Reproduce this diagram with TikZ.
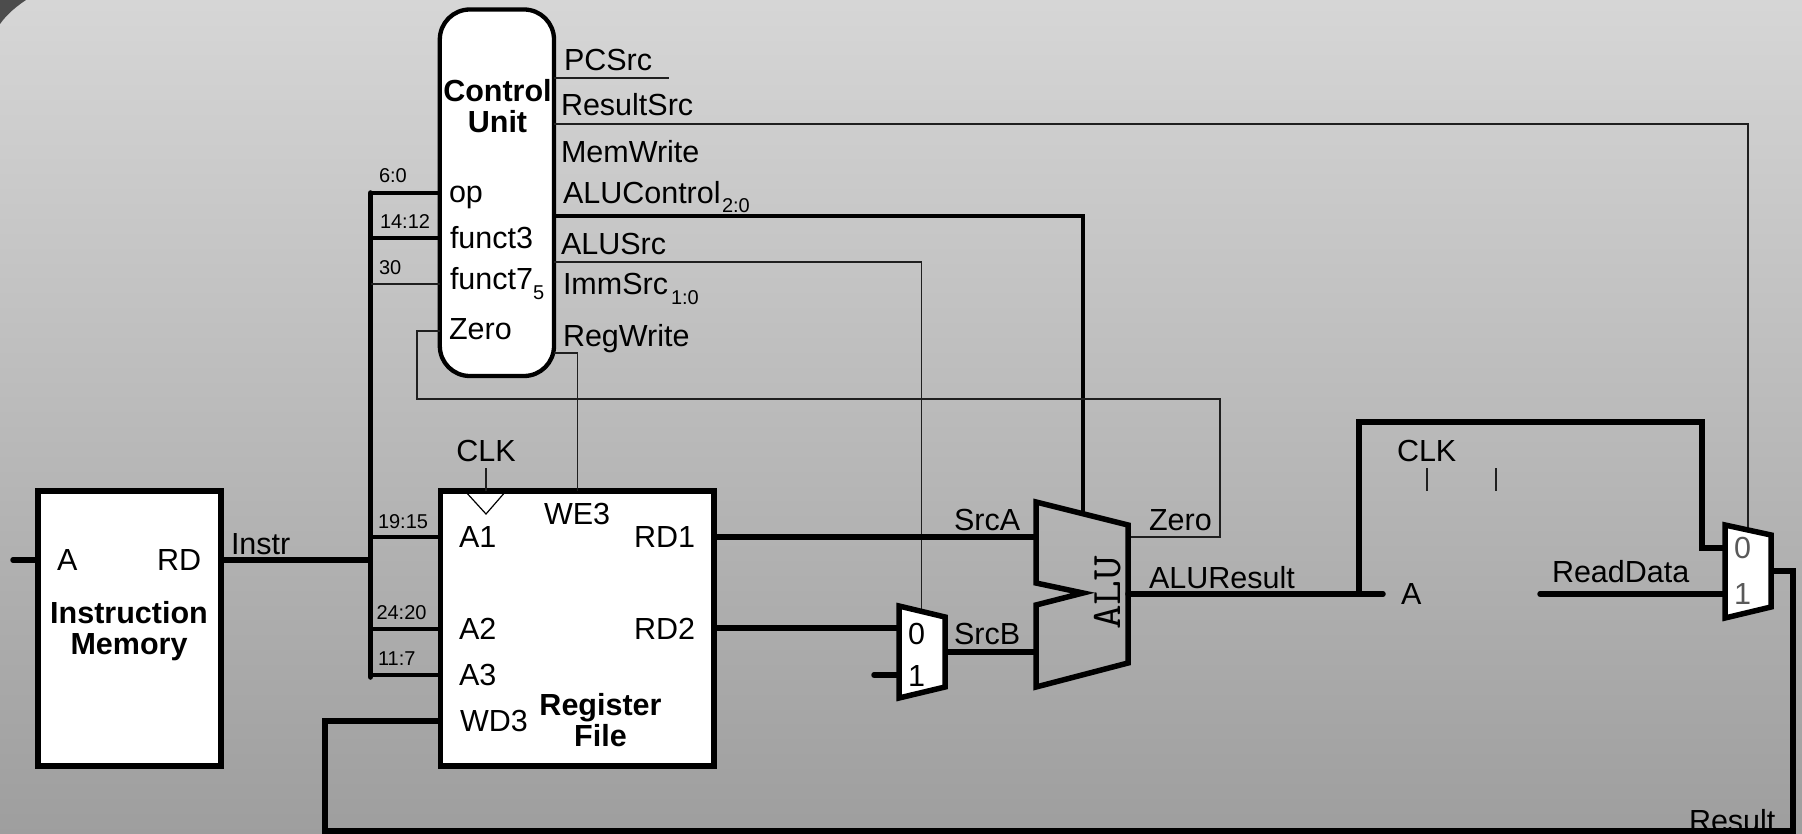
\documentclass[tikz,border=0pt]{standalone}
\usepackage{fontspec}
\setmainfont{Liberation Sans}
\newfontfamily\alufont{Latin Modern Mono}
\tikzset{
  lbl/.style={anchor=base west,inner sep=0pt,outer sep=0pt,yshift=-1pt,font=\fontsize{30.5}{32}\selectfont},
  lblc/.style={lbl,anchor=base},
  tiny/.style={lbl,font=\fontsize{20}{22}\selectfont},
  title/.style={lblc,font=\fontsize{30.5}{32}\selectfont\bfseries},
  blockbox/.style={draw=black,fill=white,line width=5.5pt,inner sep=0pt,outer sep=0pt,anchor=north west,line join=miter},
  thinw/.style={draw=black!88,line width=1.2pt},
  busw/.style={draw=black,line width=5.5pt,line cap=round,line join=miter},
  medw/.style={draw=black,line width=4pt,line join=miter},
  shapeline/.style={draw=black,line width=5.5pt,line join=miter},
}
\begin{document}
\begin{tikzpicture}[x=1pt,y=-1pt]
\useasboundingbox (0,0) rectangle (1802,834);
\shade[top color=black!16,bottom color=black!38,shading angle=0] (0,0) rectangle (1802,834);
\fill[black!70] (0,0) -- (26,0) .. controls (17,6) and (7,14) .. (0,24) -- cycle;

% coordinates
\coordinate (busT) at (370.5,193);
\coordinate (busB) at (370.5,677);
\coordinate (alusrcC) at (921.5,262);
\coordinate (alutop) at (1082.5,512);
\coordinate (aluctlC) at (1082.5,216);
\coordinate (zeroA) at (1220,537);
\coordinate (zeroB) at (1220,399);
\coordinate (zeroC) at (417,399);
\coordinate (zeroD) at (417,331);
\coordinate (regC) at (577.5,353);
\coordinate (resC) at (1748,124);
\coordinate (mux2t) at (1748,530);
\coordinate (pcE) at (669,78);
\coordinate (wbA) at (325,721);
\coordinate (wbB) at (325,831);
\coordinate (wbC) at (1793,831);
\coordinate (wbD) at (1793,571);
\coordinate (stubL) at (13,560);
\coordinate (stub1) at (874,675);
\coordinate (aA) at (1383,594);
\coordinate (rdL) at (1540,594);
\coordinate (brA) at (1359,594);
\coordinate (brB) at (1359,422);
\coordinate (brC) at (1702,422);
\coordinate (brD) at (1702,548);
\coordinate (junc) at (370.5,560);
\coordinate (m1t) at (921.5,612);
\coordinate (tick1a) at (1427,468);
\coordinate (tick1b) at (1427,491);
\coordinate (tick2a) at (1496,468);
\coordinate (tick2b) at (1496,491);
\coordinate (clkT) at (486,468);

% blocks
\node[blockbox,minimum width=183pt,minimum height=275pt] (im) at (38,491) {};
\node[blockbox,minimum width=273.6pt,minimum height=275pt] (rf) at (440.4,491) {};
\node[blockbox,line width=4.3pt,rounded corners=30pt,minimum width=114.2pt,minimum height=366.5pt] (cu) at (439.8,9.5) {};
\draw[thinw,draw=black] (465,491) -- (486,514) -- (506,491);

% muxes and ALU
\coordinate (m1a) at (899,606);
\coordinate (m1b) at (945,617);
\coordinate (m1c) at (945,687);
\coordinate (m1d) at (899,698);
\coordinate (m2a) at (1725,525);
\coordinate (m2b) at (1771,535);
\coordinate (m2c) at (1771,607);
\coordinate (m2d) at (1725,618);
\coordinate (a1) at (1036,502);
\coordinate (a2) at (1128,525);
\coordinate (a3) at (1128,663);
\coordinate (a4) at (1036,687);
\coordinate (a5) at (1036,605);
\coordinate (a6) at (1083,593);
\coordinate (a7) at (1036,583);

% text behind the result wire
\node[lbl] (tResult) at (1689,830) {Result};

% wires
\draw[thinw] (cu.east |- pcE) -- (pcE);
\draw[thinw] (cu.east |- resC) -- (resC) -- (mux2t);
\draw[medw] (cu.east |- aluctlC) -- (aluctlC) -- (alutop);
\draw[thinw] (cu.east |- alusrcC) -- (alusrcC) -- (m1t);
\draw[thinw] (cu.east |- regC) -- (regC) -- (regC |- rf.north);
\draw[thinw] (a2 |- zeroA) -- (zeroA) -- (zeroB) -- (zeroC) -- (zeroD) -- (cu.west |- zeroD);
\draw[busw] (busT) -- (busB);
\draw[medw] (busT) -- (cu.west |- busT);
\draw[medw] (370.5,238) -- (cu.west |- 370.5,238);
\draw[thinw] (370.5,284) -- (cu.west |- 370.5,284);
\draw[medw] (370.5,537) -- (rf.west |- 370.5,537);
\draw[medw] (370.5,629) -- (rf.west |- 370.5,629);
\draw[medw] (370.5,675) -- (rf.west |- 370.5,675);
\draw[busw,line cap=butt] (im.east |- junc) -- (junc);
\draw[busw] (stubL) -- (im.west |- stubL);
\draw[busw,line cap=butt] (rf.east |- 0,537) -- (a1 |- 0,537);
\draw[busw,line cap=butt] (rf.east |- 0,628) -- (m1a |- 0,628);
\draw[busw] (stub1) -- (m1a |- stub1);
\draw[busw,line cap=butt] (m1b |- 0,652) -- (a1 |- 0,652);
\draw[busw,line cap=butt] (rf.west |- wbA) -- (wbA) -- (wbB) -- (wbC) -- (wbD) -- (m2b |- wbD);
\draw[busw] (a2 |- aA) -- (aA);
\draw[busw,line cap=butt] (brA) -- (brB) -- (brC) -- (brD) -- (m2a |- brD);
\draw[busw] (rdL) -- (m2a |- rdL);
\draw[thinw] (clkT) -- (clkT |- rf.north);
\draw[thinw] (tick1a) -- (tick1b);
\draw[thinw] (tick2a) -- (tick2b);

\draw[shapeline,fill=white] (m1a) -- (m1b) -- (m1c) -- (m1d) -- cycle;
\draw[shapeline,fill=white] (m2a) -- (m2b) -- (m2c) -- (m2d) -- cycle;
\draw[shapeline] (a1) -- (a2) -- (a3) -- (a4) -- (a5) -- (a6) -- (a7) -- cycle;

% labels
\node[lbl] (tPCSrc) at (564,70) {PCSrc};
\node[lbl] (tResSrc) at (561,115) {ResultSrc};
\node[lbl] (tMemW) at (561,162) {MemWrite};
\node[lbl] (tALUC) at (563,203) {ALUControl};
\node[tiny] (tALUCs) at (722,212) {2:0};
\node[lbl] (tALUS) at (561,254) {ALUSrc};
\node[lbl] (tImm) at (563,294) {ImmSrc};
\node[tiny] (tImms) at (671,304) {1:0};
\node[lbl] (tRegW) at (563,345) {RegWrite};
\node[title] (tCtl) at (497.5,101) {Control};
\node[title] (tUnit) at (497.5,132) {Unit};
\node[lbl] (top) at (449,202) {op};
\node[lbl] (tf3) at (450,248) {funct3};
\node[lbl] (tf7) at (450,289) {funct7};
\node[tiny] (tf7s) at (533,299) {5};
\node[lbl] (tZ) at (449,339) {Zero};
\node[tiny] (b1) at (379,182) {6:0};
\node[tiny] (b2) at (380,228) {14:12};
\node[tiny] (b3) at (379,274) {30};
\node[tiny] (b4) at (378,527) {19:15};
\node[tiny] (b5) at (376.5,618) {24:20};
\node[tiny] (b6) at (378,664) {11:7};
\node[lblc] (tCLK1) at (486,460) {CLK};
\node[lbl] (tA1) at (459,546) {A1};
\node[lbl] (tA2) at (459,638) {A2};
\node[lbl] (tA3) at (459,684) {A3};
\node[lbl] (tWD3) at (460,730) {WD3};
\node[lbl] (tWE3) at (544,523) {WE3};
\node[lbl] (tRD1) at (634,546) {RD1};
\node[lbl] (tRD2) at (634,638) {RD2};
\node[title] (tReg) at (600.5,714) {Register};
\node[title] (tFile) at (600.5,745) {File};
\node[lbl] (tA) at (57,569) {A};
\node[lbl] (tRD) at (157,569) {RD};
\node[lbl] (tInstr) at (231,553) {Instr};
\node[title] (tIns) at (129,622) {Instruction};
\node[title] (tMem) at (129,653) {Memory};
\node[lbl] (tSrcA) at (954,529) {SrcA};
\node[lbl] (tSrcB) at (954,643) {SrcB};
\node[lbl] (tZero) at (1149,529) {Zero};
\node[lbl] (tALUR) at (1149,587) {ALUResult};
\node[lbl] (tm10) at (908,643) {0};
\node[lbl] (tm11) at (908,685) {1};
\node[lbl,text=black!65] (tm20) at (1734,557) {0};
\node[lbl,text=black!65] (tm21) at (1734,603) {1};
\node[lbl] (tCLK2) at (1397,460) {CLK};
\node[lbl] (tRD3) at (1552,581) {ReadData};
\node[lbl] (tA4) at (1401,603) {A};
\node[lbl,anchor=center,yshift=0pt,rotate=90,font=\fontsize{42}{44}\selectfont\alufont] (tALU) at (1108,592) {\scalebox{1.14}[1]{ALU}};
\end{tikzpicture}
\end{document}
